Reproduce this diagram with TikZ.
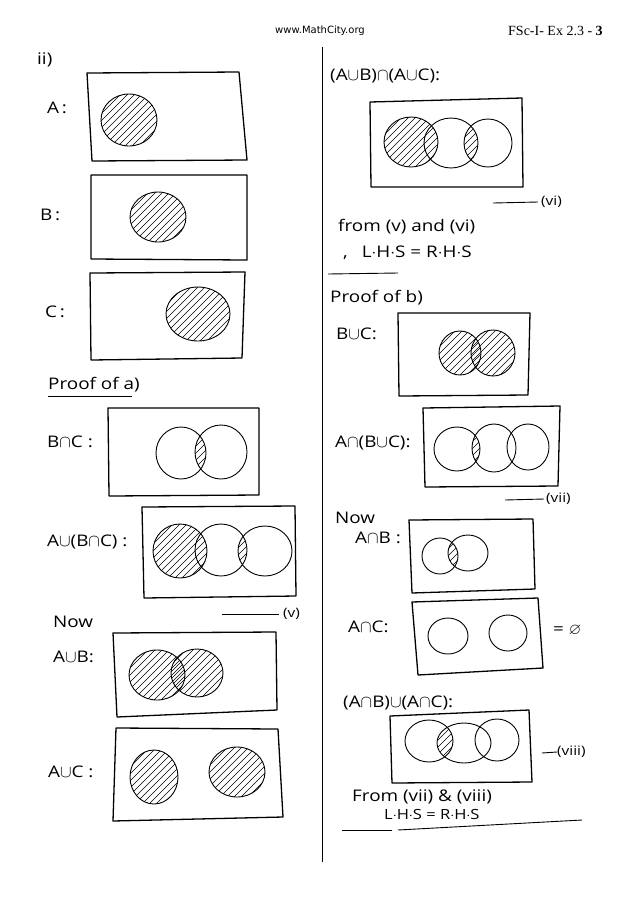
\documentclass[tikz,border=0pt]{standalone}
\usepackage{amsmath,amssymb}
\usepackage{fontspec}
\usepackage{tikz}
\usetikzlibrary{positioning,calc}
\newfontfamily\handfont[FakeStretch=1.18]{Open Sans}
\newfontfamily\webfont{DejaVu Sans}
\newfontfamily\headfont{Liberation Serif}
\tikzset{
    frame/.style={line width=1.3pt, line join=round},
    ring/.style={line width=0.9pt},
    hatchline/.style={line width=0.55pt},
    hand/.style={font=\handfont\fontsize{16}{18}\selectfont, inner sep=0pt, anchor=west},
    tag/.style={font=\handfont\fontsize{13}{15}\selectfont, inner sep=0pt, anchor=west},
    ref/.style={line width=0.9pt},
}
% diagonal hatch round a centre (used inside a clip)
\newcommand{\hatchfill}[2]{%
    \foreach \t in {-48,-41,...,48} {
        \draw[hatchline] (#1+\t-40,#2+40) -- (#1+\t+40,#2-40);
    }}
% hatched disc: cx, cy, rx, ry
\newcommand{\discfill}[4]{%
    \begin{scope}
        \clip (#1,#2) ellipse [x radius=#3, y radius=#4];
        \hatchfill{#1}{#2}
    \end{scope}}
% hatched overlap of two discs (first disc, second disc)
\newcommand{\lensfill}[8]{%
    \begin{scope}
        \clip (#1,#2) ellipse [x radius=#3, y radius=#4];
        \hatchfill{#1}{#2}
        \fill[white, even odd rule] (#5,#6) ellipse [x radius=#7, y radius=#8] (-10,-10) rectangle (650,916);
    \end{scope}}

\begin{document}
\begin{tikzpicture}[x=1pt,y=-1pt]
    \fill[white] (0,0) rectangle (640,906);
    \useasboundingbox (0,0) rectangle (640,906);
    % Header
    \node[font=\webfont\fontsize{10}{12}\selectfont] (site) at (320,31) {www.MathCity.org};
    \node[anchor=west, inner sep=0pt, font=\headfont\fontsize{14}{16}\selectfont] (page) at (508,31) {FSc-I- Ex 2.3 - \textbf{3}};
    % Column divider
    \coordinate (divtop) at (322,47);
    \coordinate (divbot) at (322,862);
    \draw[line width=1pt] (divtop) -- (divbot);

    % ---------------- left column ----------------
    \node[hand] (ii) at (37,60) {ii)};
    % A
    \node[hand] (lblA) at (47,108) {A\,:};
    \draw[frame] (87,73) -- (239,72) -- (247,160) -- (92,161) -- cycle;
    \discfill{129}{120}{28}{26}
    \draw[ring] (129,120) ellipse [x radius=28, y radius=26];
    % B
    \node[hand] (lblB) at (40,215) {B\,:};
    \draw[frame] (91,175) -- (247,175) -- (247,260) -- (91,259) -- cycle;
    \discfill{158}{217}{28}{25}
    \draw[ring] (158,217) ellipse [x radius=28, y radius=25];
    % C
    \node[hand] (lblC) at (45,312) {C\,:};
    \draw[frame] (90,273) -- (245,272) -- (242,358) -- (91,360) -- cycle;
    \discfill{198}{314}{32}{27}
    \draw[ring] (198,314) ellipse [x radius=32, y radius=27];

    % Proof of a)
    \node[hand] (proofa) at (48,385) {Proof of a)};
    \draw[ref] ([yshift=-4pt]proofa.south west) -- ([yshift=-4pt,xshift=-8pt]proofa.south east);
    % B cap C
    \node[hand] (lblBnC) at (47,442) {B$\cap$C :};
    \draw[frame] (108,408) -- (259,408) -- (259,495) -- (109,496) -- cycle;
    \lensfill{181}{453}{25}{26}{221}{452}{26}{27}
    \draw[ring] (181,453) ellipse [x radius=25, y radius=26];
    \draw[ring] (221,452) ellipse [x radius=26, y radius=27];
    % A cup (B cap C)
    \node[hand] (lblAuBnC) at (47,542) {A$\cup$(B$\cap$C) :};
    \draw[frame] (142,507) -- (295,506) -- (296,596) -- (144,598) -- cycle;
    \lensfill{221}{550}{26}{26}{265}{551}{27}{25}
    \discfill{180}{551}{27}{27}
    \draw[ring] (180,551) ellipse [x radius=27, y radius=27];
    \draw[ring] (221,550) ellipse [x radius=26, y radius=26];
    \draw[ring] (265,551) ellipse [x radius=27, y radius=25];
    % (v)
    \node[tag] (eqv) at (283,614) {(v)};
    \coordinate (eqvline) at (222,614);
    \draw[ref] (eqvline) -- ([xshift=-4pt]eqv.west);

    \node[hand] (now1) at (53,622) {Now};
    % A cup B
    \node[hand] (lblAuB) at (53,657) {A$\cup$B:};
    \draw[frame] (113,633) -- (276,632) -- (277,710) -- (117,717) -- cycle;
    \discfill{157}{675}{28}{25}
    \discfill{197}{673}{26}{24}
    \draw[ring] (157,675) ellipse [x radius=28, y radius=25];
    \draw[ring] (197,673) ellipse [x radius=26, y radius=24];
    % A cup C
    \node[hand] (lblAuC) at (48,772) {A$\cup$C :};
    \draw[frame] (116,728) -- (278,729) -- (283,817) -- (113,821) -- cycle;
    \discfill{154}{777}{24}{27}
    \discfill{237}{772}{28}{25}
    \draw[ring] (154,777) ellipse [x radius=24, y radius=27];
    \draw[ring] (237,772) ellipse [x radius=28, y radius=25];

    % ---------------- right column ----------------
    % (A cup B) cap (A cup C)
    \node[hand] (lblAuBnAuC) at (330,76) {(A$\cup$B)$\cap$(A$\cup$C):};
    \draw[frame] (370,102) -- (522,98) -- (523,187) -- (371,187) -- cycle;
    \lensfill{451}{143}{27}{25}{488}{143}{24}{24}
    \discfill{411}{142}{27}{25}
    \draw[ring] (411,142) ellipse [x radius=27, y radius=25];
    \draw[ring] (451,143) ellipse [x radius=27, y radius=25];
    \draw[ring] (488,143) ellipse [x radius=24, y radius=24];
    % (vi)
    \node[tag] (eqvi) at (541,202) {(vi)};
    \coordinate (eqviline) at (493,203);
    \draw[ref] (eqviline) -- ([xshift=-3pt]eqvi.west);
    \node[hand] (from1) at (338,227) {from (v) and (vi)};
    \node[hand] (lhs1) at (343,253) {,\hspace{14pt}L$\cdot$H$\cdot$S = R$\cdot$H$\cdot$S};
    \coordinate (rule1a) at (328,274);
    \coordinate (rule1b) at (398,273);
    \draw[ref] (rule1a) -- (rule1b);

    % Proof of b)
    \node[hand] (proofb) at (330,298) {Proof of b)};
    % B cup C
    \node[hand] (lblBuC) at (336,334) {B$\cup$C:};
    \draw[frame] (398,313) -- (530,313) -- (528,395) -- (399,396) -- cycle;
    \discfill{460}{353}{21}{22}
    \discfill{493}{353}{22}{23}
    \draw[ring] (460,353) ellipse [x radius=21, y radius=22];
    \draw[ring] (493,353) ellipse [x radius=22, y radius=23];
    % A cap (B cup C)
    \node[hand] (lblAnBuC) at (335,443) {A$\cap$(B$\cup$C):};
    \draw[frame] (423,408) -- (560,406) -- (558,486) -- (425,487) -- cycle;
    \lensfill{457}{449}{23}{22}{494}{448}{22}{24}
    \draw[ring] (457,449) ellipse [x radius=23, y radius=22];
    \draw[ring] (494,448) ellipse [x radius=22, y radius=24];
    \draw[ring] (528,447) ellipse [x radius=21, y radius=23];
    % (vii)
    \node[tag] (eqvii) at (546,499) {(vii)};
    \coordinate (eqviiline) at (505,500);
    \draw[ref] (eqviiline) -- ([xshift=-2pt]eqvii.west);

    \node[hand] (now2) at (335,518) {Now};
    % A cap B
    \node[hand] (lblAnB) at (355,538) {A$\cap$B :};
    \draw[frame] (409,520) -- (533,519) -- (535,589) -- (412,593) -- cycle;
    \lensfill{440}{556}{18}{18}{468}{553}{20}{18}
    \draw[ring] (440,556) ellipse [x radius=18, y radius=18];
    \draw[ring] (468,553) ellipse [x radius=20, y radius=18];
    % A cap C
    \node[hand] (lblAnC) at (348,627) {A$\cap$C:};
    \draw[frame] (412,602) -- (538,598) -- (543,668) -- (418,675) -- cycle;
    \draw[ring] (448,636) ellipse [x radius=20, y radius=18];
    \draw[ring] (508,633) ellipse [x radius=19, y radius=18];
    \node[hand] (empty) at (553,630) {= $\varnothing$};

    % (A cap B) cup (A cap C)
    \node[hand] (lblAnBuAnC) at (343,703) {(A$\cap$B)$\cup$(A$\cap$C):};
    \draw[frame] (390,716) -- (529,710) -- (532,782) -- (392,783) -- cycle;
    \lensfill{429}{741}{24}{21}{464}{743}{27}{20}
    \draw[ring] (429,741) ellipse [x radius=24, y radius=21];
    \draw[ring] (464,743) ellipse [x radius=27, y radius=20];
    \draw[ring] (497,740) ellipse [x radius=22, y radius=21];
    % (viii)
    \node[tag] (eqviii) at (557,752) {(viii)};
    \coordinate (eqviiiline) at (542,753);
    \draw[ref] (eqviiiline) -- (eqviii.west);
    \node[hand] (from2) at (352,797) {From (vii) \& (viii)};
    \node[hand, font=\handfont\fontsize{14}{16}\selectfont] (lhs2) at (384,814) {L$\cdot$H$\cdot$S = R$\cdot$H$\cdot$S};
    \coordinate (rule2a) at (342,830);
    \coordinate (rule2b) at (392,830);
    \coordinate (rule2c) at (398,830);
    \coordinate (rule2d) at (582,820);
    \draw[ref] (rule2a) -- (rule2b);
    \draw[ref] (rule2c) -- (rule2d);
\end{tikzpicture}
\end{document}
